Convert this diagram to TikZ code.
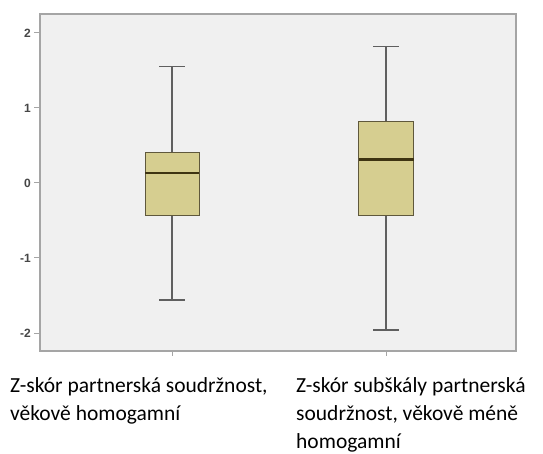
\documentclass[tikz,border=0pt]{standalone}
\usepackage{fontspec}
\setmainfont{Carlito}
\newfontfamily\tickFont{Liberation Sans}
\usetikzlibrary{positioning}
\tikzstyle{plotArea} = [x = 1pt, y = -1pt]
\definecolor{frameColor}{RGB}{165,165,165}
\definecolor{plotBack}{RGB}{240,240,240}
\definecolor{boxColor}{RGB}{214,206,144}
\definecolor{boxEdge}{RGB}{95,88,60}
\definecolor{medianColor}{RGB}{62,52,18}
\definecolor{whiskerColor}{RGB}{95,95,95}
\tikzstyle{frameStyle} = [draw=frameColor, fill=plotBack, line width=1.2pt]
\tikzstyle{boxStyle} = [draw=boxEdge, fill=boxColor, line width=1pt]
\tikzstyle{whiskerStyle} = [color=whiskerColor, line width=1.4pt]
\tikzstyle{medianStyle} = [color=medianColor, line width=2.5pt]
\tikzstyle{tickStyle} = [color=frameColor, line width=1pt]
\tikzstyle{tickLabel} = [font=\tickFont\bfseries\fontsize{12}{12}\selectfont, text=gray!55!black, anchor=east, inner sep=1pt]
\tikzstyle{caseLabel} = [font=\fontsize{21.5}{28}\selectfont, anchor=base west, align=left, inner sep=0pt]
\newcommand{\zeroY}{183}
\newcommand{\unitY}{75}
\newcommand{\capW}{13}
\newcommand{\valY}[1]{\zeroY - \unitY * (#1)}
% center, half width, low, q1, median, q3, high
\newcommand{\boxPlot}[7]{
  \draw [whiskerStyle] (#1, {\valY{#3}}) -- (#1, {\valY{#7}});
  \draw [whiskerStyle] (#1 - \capW, {\valY{#3}}) -- + (2 * \capW, 0);
  \draw [whiskerStyle] (#1 - \capW, {\valY{#7}}) -- + (2 * \capW, 0);
  \filldraw [boxStyle] (#1 - #2, {\valY{#4}}) rectangle (#1 + #2, {\valY{#6}});
  \draw [medianStyle] (#1 - #2, {\valY{#5}}) -- (#1 + #2, {\valY{#5}});
}

\begin{document}
\begin{tikzpicture}[plotArea]
  \useasboundingbox [fill=white] (0,0) rectangle (543,454);
  \filldraw [frameStyle] (40,14) rectangle (516,351);
  \foreach \tick in {-2,...,2} {
    \draw [tickStyle] (34, {\valY{\tick}}) -- (40, {\valY{\tick}});
    \node [tickLabel] (tick\tick) at (32, {\valY{\tick}}) {\tick};
  }
  \draw [tickStyle] (172,351) -- (172,356);
  \draw [tickStyle] (386,351) -- (386,356);

  \boxPlot{172}{27}{-1.56}{-0.43}{0.13}{0.40}{1.55}
  \boxPlot{386}{27.5}{-1.96}{-0.43}{0.31}{0.82}{1.82}

  % base anchor sits on the last line
  \node [caseLabel] (labelOne) at (10,420) {Z-skór partnerská soudržnost,\\věkově homogamní};
  \node [caseLabel] (labelTwo) at (296,448) {Z-skór subškály partnerská\\soudržnost, věkově méně\\homogamní};
\end{tikzpicture}
\end{document}
